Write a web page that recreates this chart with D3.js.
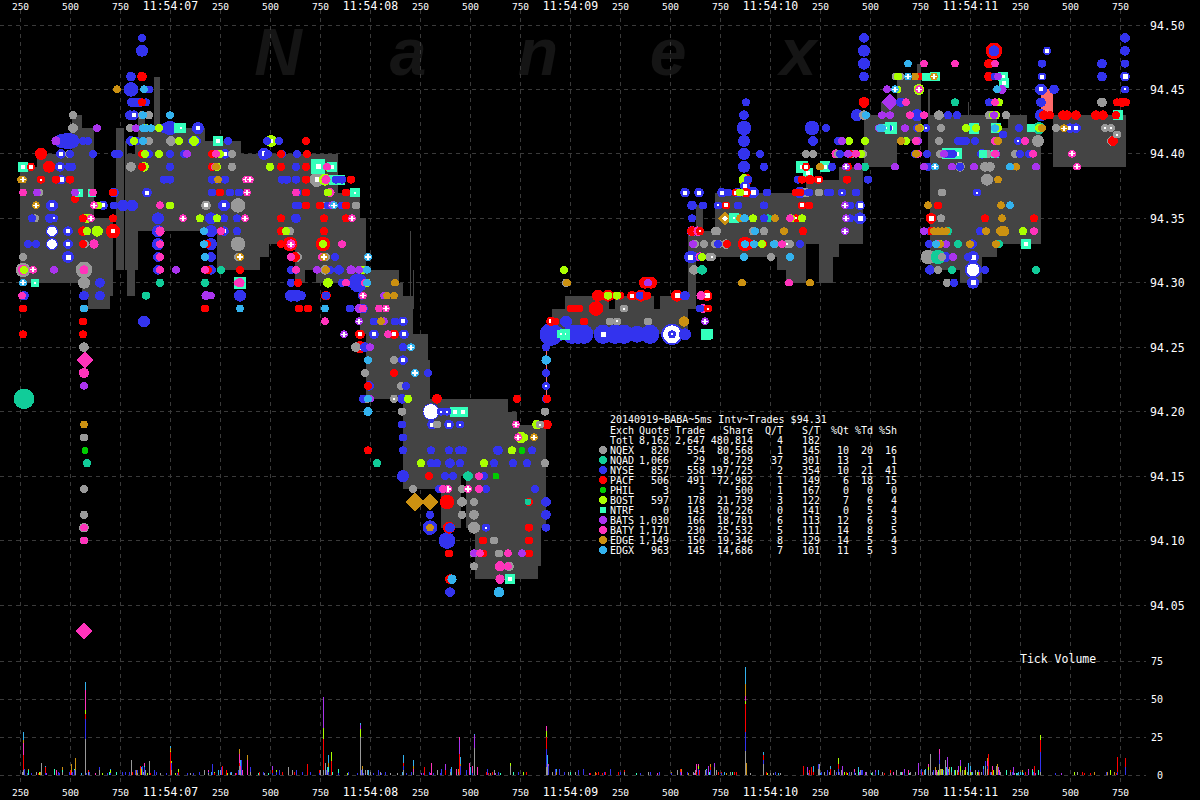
<!DOCTYPE html>
<html><head><meta charset="utf-8">
<script src="https://cdnjs.cloudflare.com/ajax/libs/d3/7.8.5/d3.min.js"></script>
<style>html,body{margin:0;padding:0;background:#000}svg{display:block}text{font-family:"DejaVu Sans Mono",monospace;fill:#fff}</style>
</head><body><svg id="c" width="1200" height="800"></svg>
<script>
// ---- labels ----
const timeTickLabels=["250","500","750","11:54:07","250","500","750","11:54:08","250","500","750","11:54:09","250","500","750","11:54:10","250","500","750","11:54:11","250","500","750"];
const timeTicks=[250,500,750,1000,1250,1500,1750,2000,2250,2500,2750,3000,3250,3500,3750,4000,4250,4500,4750,5000,5250,5500,5750];
const priceTicks=[94.05,94.10,94.15,94.20,94.25,94.30,94.35,94.40,94.45,94.50];
const volumeTicks=[0,25,50,75];
const watermark=["N","a","n","e","x"];
const tableTitle="20140919~BABA~5ms Intv~Trades $94.31";
const tableHeader=["Exch","Quote","Trade","Share","Q/T","S/T","%Qt","%Td","%Sh"];
const tableTotal=["Totl","8,162","2,647","480,814","4","182","","",""];
const exchNames=["NQEX","NQAD","NYSE","PACF","PHIL","BOST","NTRF","BATS","BATY","EDGE","EDGX"];
const exchQuote=["820","1,066","857","506","3","597","0","1,030","1,171","1,149","963"];
const exchTrade=["554","29","558","491","3","178","143","166","230","150","145"];
const exchShare=["80,568","8,729","197,725","72,982","500","21,739","20,226","18,781","25,532","19,346","14,686"];
const exchQT=["1","37","2","1","1","3","0","6","5","8","7"];
const exchST=["145","301","354","149","167","122","141","113","111","129","101"];
const exchPQ=["10","13","10","6","0","7","0","12","14","14","11"];
const exchPT=["20","1","21","18","0","6","5","6","8","5","5"];
const exchPS=["16","1","41","15","0","4","4","3","5","4","3"];
const exchColors=["#999999","#11cc99","#3333ee","#ff0000","#00cc00","#aaff00","#33ffbb","#aa33ee","#ff33bb","#cc9111","#33b2ee"];

// ---- quote band: [from ms, to ms, low, high] ----
const bandRows=[[250,335,94.30,94.39],[335,510,94.30,94.40],[510,560,94.30,94.43],[560,590,94.29,94.42],[590,620,94.28,94.42],[620,700,94.28,94.35],[700,715,94.29,94.35],[730,770,94.31,94.42],[775,785,94.31,94.41],[785,825,94.29,94.40],[825,840,94.31,94.41],[840,875,94.34,94.43],[875,920,94.34,94.42],[920,950,94.34,94.46],[950,1175,94.34,94.42],[1175,1235,94.34,94.41],[1235,1355,94.31,94.41],[1355,1450,94.31,94.40],[1450,1495,94.32,94.40],[1495,1625,94.33,94.40],[1625,1675,94.30,94.40],[1675,1730,94.31,94.40],[1730,1840,94.30,94.40],[1840,1950,94.30,94.37],[1950,1980,94.26,94.35],[1980,2145,94.21,94.31],[2145,2165,94.21,94.30],[2165,2215,94.14,94.29],[2215,2290,94.14,94.26],[2290,2300,94.14,94.24],[2300,2355,94.14,94.21],[2355,2455,94.11,94.21],[2455,2480,94.15,94.21],[2480,2525,94.11,94.21],[2525,2690,94.07,94.21],[2690,2735,94.07,94.20],[2735,2840,94.07,94.19],[2840,2855,94.08,94.19],[2855,2880,94.11,94.19],[2910,2975,94.26,94.28],[2975,3195,94.26,94.29],[3195,3225,94.26,94.28],[3225,3420,94.26,94.29],[3420,3450,94.26,94.28],[3450,3590,94.26,94.29],[3590,3630,94.28,94.34],[3630,3665,94.32,94.36],[3665,3725,94.32,94.34],[3725,3750,94.32,94.37],[3750,3960,94.32,94.37],[3960,4035,94.32,94.37],[4035,4080,94.31,94.37],[4080,4180,94.30,94.37],[4180,4245,94.33,94.38],[4245,4315,94.30,94.38],[4315,4345,94.32,94.38],[4345,4465,94.33,94.39],[4470,4555,94.39,94.43],[4555,4635,94.39,94.44],[4635,4740,94.41,94.46],[4735,4755,94.41,94.47],[4790,4800,94.40,94.45],[4800,4950,94.31,94.43],[4950,5060,94.30,94.43],[5060,5135,94.32,94.43],[5135,5190,94.33,94.42],[5190,5285,94.33,94.43],[5285,5355,94.33,94.42],[5415,5780,94.39,94.43],
 [2010,2012,94.31,94.33],[2130,2132,94.31,94.34],[2200,2203,94.29,94.34],[2215,2218,94.28,94.31],[2260,2262,94.26,94.28],[2285,2287,94.26,94.28],[4990,4995,94.42,94.44]];
const spreadRows=[[5355,5415,94.43,94.45],[2880,2885,94.21,94.26]];

// ---- marks: [ms, price, shares, trade shares] ----
const nqexPoints=[[325,94.35,100],[345,94.37,100],[265,94.32,100],[265,94.31,700],[570,94.31,1000],[570,94.30,400],[570,94.28,100],[570,94.25,200],[570,94.18,100],[570,94.14,100],[570,94.12,100],[570,94.11,200],[570,94.10,100],[515,94.43,100],[515,94.42,200],[495,94.40,100],[575,94.33,100],[800,94.42,100],[860,94.43,100],[895,94.43,100],[835,94.41,100],[895,94.41,100],[1005,94.41,200],[805,94.39,200],[1310,94.40,100],[1310,94.39,100],[1180,94.36,200,100],[1340,94.36,700],[1340,94.33,700],[1340,94.32,100],[1600,94.34,100],[1635,94.32,200],[1765,94.36,100],[1775,94.31,200],[1735,94.38,700,300],[1780,94.32,100],[1930,94.36,100],[1930,94.25,200],[2120,94.24,100],[1975,94.23,100],[2155,94.22,100],[1985,94.21,100],[2120,94.21,100,50],[2160,94.20,100],[2335,94.21,200],[2335,94.19,100],[2215,94.14,100],[2850,94.19,100,50],[2460,94.14,100],[2460,94.13,200],[2460,94.12,100],[2520,94.13,100],[2520,94.12,200],[2520,94.11,400],[2620,94.10,100],[2520,94.09,100],[2645,94.09,100],[2520,94.08,100],[2695,94.08,200],[2875,94.16,100],[2875,94.20,100],[2980,94.30,100],[3270,94.28,100,50],[3200,94.27,100],[3235,94.27,100,50],[3390,94.27,100],[3625,94.33,100,50],[3670,94.33,100],[3725,94.34,100],[3725,94.33,100],[3745,94.33,100],[3780,94.33,200],[3620,94.31,200],[3695,94.32,100],[3710,94.32,100,50],[3735,94.34,100],[3915,94.34,100],[3970,94.34,100],[4025,94.33,100],[4100,94.33,100],[4085,94.33,100,50],[4005,94.32,100],[4180,94.37,200],[4245,94.37,100],[4215,94.40,100],[4630,94.46,100],[4650,94.46,100],[4470,94.43,200],[4845,94.43,200],[4855,94.42,100],[4845,94.41,100],[4850,94.40,100],[5430,94.42,100],[5675,94.42,100,50],[5705,94.42,100,50],[5710,94.41,200],[5735,94.415,100,50],[5660,94.44,200],[4410,94.40,100],[4465,94.40,100],[4340,94.40,100],[4180,94.40,100],[5180,94.43,100],[5095,94.43,100],[4950,94.39,200],[5075,94.39,200],[5100,94.39,200],[5085,94.38,400],[4860,94.37,100],[4855,94.35,100],[4790,94.32,700],[4840,94.31,100],[4885,94.30,100],[4860,94.32,100],[5090,94.40,100],[5225,94.40,100],[5340,94.41,400]];
const nqadPoints=[[270,94.21,1700],[950,94.30,100],[880,94.29,100],[1255,94.31,100],[1175,94.30,100],[2035,94.16,100],[575,94.17,50],[585,94.16,100],[2490,94.15,200],[3660,94.31,200],[3990,94.35,100],[4925,94.44,100],[4730,94.41,100],[4475,94.39,100],[5330,94.31,100],[4890,94.34,100],[4940,94.33,100],[5145,94.33,100],[4840,94.32,700],[4910,94.31,100],[5345,94.42,400],[2790,94.13,50]];
const nysePoints=[[860,94.49,100],[860,94.48,400],[805,94.46,200],[805,94.45,700],[895,94.45,100],[810,94.44,200],[830,94.44,200],[850,94.44,200],[880,94.44,100],[800,94.43,200],[820,94.43,200,100],[1000,94.42,700],[970,94.42,200],[1140,94.42,400,100],[805,94.41,200],[835,94.41,100],[1115,94.41,200,200],[1130,94.41,200],[725,94.40,100],[745,94.40,100],[860,94.40,100],[895,94.40,100],[1000,94.40,100],[1070,94.40,100],[310,94.35,100],[330,94.33,100],[400,94.35,200],[410,94.35,100],[460,94.41,700],[490,94.41,1000,300],[510,94.41,700],[565,94.41,100],[590,94.41,100],[455,94.40,200,100],[500,94.40,100],[615,94.40,100],[510,94.39,100],[450,94.39,200,100],[495,94.39,100],[455,94.38,200,200],[720,94.37,200],[885,94.37,200,100],[970,94.38,100],[1000,94.38,100],[1000,94.39,100],[720,94.36,100],[810,94.36,400],[765,94.36,400],[665,94.36,200,100],[420,94.35,100,50],[410,94.36,400,100],[410,94.34,400,400],[490,94.34,200,100],[410,94.33,400,400],[490,94.33,200,100],[290,94.33,100],[490,94.32,400,300],[940,94.35,400],[940,94.34,400],[940,94.33,400],[940,94.32,200],[940,94.31,200],[1205,94.35,400],[1205,94.34,400],[1205,94.33,400],[1205,94.31,200],[1205,94.32,200],[1210,94.38,100],[1210,94.37,100],[870,94.27,400],[570,94.29,200],[650,94.29,200],[650,94.30,200],[270,94.29,200],[1300,94.37,100],[1345,94.37,100],[1335,94.35,100],[1335,94.34,100],[1350,94.29,400],[1235,94.38,100],[1275,94.38,100],[1270,94.36,400,100],[1270,94.34,200,100],[1270,94.35,100],[1275,94.40,200,100],[1290,94.41,100],[1470,94.40,400,300],[1490,94.40,100],[1485,94.41,100],[1545,94.41,100],[1560,94.40,100],[1555,94.39,100],[1560,94.38,100],[1580,94.38,100],[1635,94.40,100],[1630,94.39,100],[1630,94.38,100],[1585,94.38,100],[1635,94.37,100],[1630,94.36,100],[1630,94.35,200],[1630,94.31,100],[1605,94.31,100],[1605,94.30,100],[1605,94.29,400],[1635,94.29,400],[1655,94.29,200],[1640,94.36,100],[1790,94.36,100],[1830,94.38,100],[1860,94.38,100],[1825,94.32,100],[1845,94.31,200],[1800,94.31,100],[1780,94.29,100],[1860,94.36,100],[1880,94.36,100],[1860,94.30,100],[1900,94.30,100],[1940,94.30,1400],[1960,94.29,100],[1965,94.28,200],[1900,94.28,100],[2020,94.27,100],[2125,94.27,100],[2165,94.27,200,100],[2020,94.26,200,100],[2170,94.26,200,100],[2165,94.25,100],[1975,94.25,200],[2165,94.24,200,100],[2290,94.23,100],[1995,94.22,200,100],[2180,94.22,100],[2160,94.21,200],[1965,94.21,100],[2160,94.19,100],[2165,94.18,100],[2165,94.17,100],[2310,94.19,200,100],[2305,94.20,1000,1000],[2355,94.20,100,50],[2385,94.20,100,50],[2395,94.19,200,100],[2450,94.19,100],[2450,94.19,100,50],[2450,94.17,100],[2450,94.16,100],[2305,94.17,100],[2395,94.17,100],[2445,94.17,100],[2465,94.17,100],[2640,94.17,200],[2810,94.17,100],[2305,94.16,100],[2335,94.16,100],[2400,94.16,200],[2620,94.16,100],[2715,94.16,100],[2785,94.16,100],[2165,94.15,400],[2375,94.15,100],[2415,94.15,100],[2570,94.15,100],[2825,94.14,100],[2345,94.14,100],[2580,94.14,100],[2300,94.12,100],[2880,94.13,200],[2880,94.12,200],[2880,94.11,100],[2300,94.11,700],[2385,94.10,1000],[2400,94.11,200],[2400,94.06,200],[2580,94.11,100,50],[2905,94.26,2200],[2930,94.26,1000],[2980,94.27,400],[3010,94.26,1400],[3040,94.26,1400],[3070,94.26,1400],[3165,94.26,1400,200],[3225,94.26,1400],[3270,94.26,1400],[3335,94.26,1000],[3400,94.26,1400],[3510,94.26,1900,1400],[3575,94.26,400],[3510,94.26,100,50],[3575,94.29,200],[2880,94.25,100],[2880,94.23,100],[2880,94.22,100,50],[2880,94.21,100,50],[3240,94.29,100,100],[3350,94.29,100],[3575,94.37,200,100],[3645,94.37,200,100],[3760,94.37,200,100],[3840,94.37,200,100],[3790,94.37,100],[3915,94.37,400,300],[3985,94.37,100],[3610,94.36,200],[3665,94.36,100],[3740,94.36,100,50],[3840,94.36,100],[3970,94.36,100],[3610,94.35,100],[3970,94.35,100],[4150,94.37,400,200],[4140,94.38,100],[4155,94.37,100],[4195,94.37,100],[4150,94.33,100],[4210,94.42,700],[4215,94.41,200],[3880,94.44,100],[3870,94.43,200],[3870,94.42,700],[3870,94.41,400],[3870,94.40,400],[3870,94.39,400],[3875,94.37,200],[3875,94.375,200,100],[3610,94.32,400],[3600,94.32,400,300],[3655,94.32,100],[3740,94.33,100],[3890,94.38,100],[3950,94.40,100],[3970,94.39,100],[3650,94.28,100],[4470,94.49,200],[4470,94.48,400],[4470,94.47,400],[4470,94.46,200],[4435,94.43,400],[4340,94.41,100],[4350,94.40,100],[4280,94.42,100],[4310,94.39,100],[4300,94.37,100],[4430,94.37,100],[4490,94.38,100],[4360,94.37,100,50],[4290,94.37,100],[4400,94.36,100],[4400,94.35,100],[4450,94.36,200,200],[4450,94.35,400,300],[4655,94.44,200],[4665,94.44,100],[4590,94.42,100],[4780,94.42,100,50],[4735,94.43,100],[4735,94.43,400,300],[4735,94.42,100,50],[4890,94.43,100],[4935,94.43,100],[4940,94.41,100],[4960,94.41,100],[4980,94.41,100],[5025,94.41,100],[4735,94.40,100],[4725,94.40,100],[4785,94.40,100],[4885,94.40,100],[4900,94.40,100],[4950,94.39,100],[4790,94.39,100],[5060,94.40,200,100],[5035,94.37,100,50],[4915,94.40,100],[5245,94.42,100],[5165,94.415,100],[5240,94.41,100,50],[5250,94.40,100],[5295,94.40,100],[4800,94.34,100],[4795,94.33,100],[5050,94.34,100],[5010,94.33,200,100],[4990,94.32,100],[5015,94.32,400,300],[5015,94.31,1000,700],[5075,94.31,100],[5015,94.30,400,300],[4880,94.32,200],[4800,94.31,200],[4920,94.30,100],[5120,94.48,300],[5125,94.46,100],[5095,94.44,100],[5385,94.48,100,100],[5360,94.47,100],[5360,94.46,100,100],[5355,94.45,400,100],[5420,94.45,200],[5355,94.44,200],[5355,94.43,400],[5775,94.49,200],[5775,94.48,200],[5775,94.47,100],[5660,94.47,200],[5660,94.46,200],[5775,94.46,200,200],[5775,94.45,100,50],[5500,94.42,200,100],[5530,94.42,200,100]];
const pacfPoints=[[265,94.28,100],[265,94.26,100],[355,94.40,400],[305,94.39,100,100],[395,94.39,400],[355,94.38,100,50],[430,94.38,100],[500,94.38,100],[525,94.365,100],[715,94.37,100],[565,94.34,200],[715,94.34,700,100],[565,94.35,100],[715,94.35,100],[565,94.33,100],[565,94.27,100],[565,94.26,100],[860,94.46,200],[860,94.44,100],[860,94.40,100],[860,94.39,100],[1250,94.37,100],[1210,94.40,100],[1210,94.39,100],[1555,94.39,100],[1555,94.40,100],[1680,94.41,100],[1685,94.40,100],[1680,94.39,100],[1680,94.38,100],[1680,94.37,100],[1680,94.36,100],[1255,94.34,100],[1555,94.35,100],[1555,94.34,100],[1555,94.33,100],[1600,94.33,700],[1770,94.35,100],[1770,94.34,100],[1765,94.33,700,100],[1625,94.32,200],[1905,94.38,100],[1880,94.37,100],[1750,94.36,100],[1880,94.36,100],[1880,94.35,100],[1185,94.33,100],[1175,94.28,100],[1645,94.28,100],[1780,94.29,200],[1690,94.28,100],[1640,94.30,100],[1190,94.31,100],[1350,94.31,100],[1950,94.26,200,100],[1950,94.25,400,200],[2120,94.26,200,100],[2120,94.23,100],[1990,94.22,100],[2335,94.21,200],[1990,94.17,100],[2295,94.15,100],[2385,94.13,700],[2395,94.11,400],[2795,94.13,100],[2795,94.11,100],[2795,94.10,100],[2565,94.10,100],[2395,94.09,100],[2565,94.09,100],[2795,94.09,100],[2400,94.07,200],[2885,94.19,200,0],[2735,94.21,100],[2885,94.21,100],[2925,94.27,100],[2905,94.27,200,100],[3070,94.27,100],[3005,94.28,100],[3025,94.28,100],[3045,94.28,100],[3130,94.28,700],[3140,94.29,400],[3190,94.29,400,200],[3230,94.29,100],[3250,94.29,100],[3310,94.29,200,100],[3355,94.29,400],[3385,94.29,100],[3375,94.30,400],[3405,94.30,400],[3535,94.29,400,200],[3610,94.34,200],[3650,94.34,100,50],[3685,94.29,300,200],[3690,94.28,100,50],[3880,94.38,400],[3830,94.37,100,100],[3880,94.37,200,100],[3780,94.36,100,100],[3875,94.33,700,100],[3900,94.33,200],[3785,94.33,100],[3965,94.33,100],[4180,94.39,100,100],[4160,94.38,100],[4130,94.37,100],[4150,94.37,100],[4160,94.36,100,100],[4195,94.36,100],[4130,94.35,100,50],[4200,94.38,200],[4470,94.44,300],[4755,94.46,100],[4740,94.41,100],[4240,94.38,100],[4245,94.38,100,100],[4165,94.34,100],[4385,94.38,100],[4400,94.40,100],[4390,94.39,100],[4395,94.40,100],[4840,94.36,100],[4805,94.35,300,200],[5075,94.35,100],[4805,94.34,100],[5320,94.35,100],[5120,94.48,1000,0],[5095,94.47,200],[5095,94.46,200],[5125,94.43,100],[5370,94.43,200],[5400,94.43,100],[5465,94.43,200],[5485,94.43,200],[5530,94.43,200],[5630,94.43,200],[5665,94.43,200],[5715,94.41,200],[5730,94.43,100],[5735,94.44,100],[5760,94.44,200],[5780,94.44,100]];
const philPoints=[[2760,94.17,50],[2630,94.15,50],[575,94.17,50]];
const bostPoints=[[270,94.31,100],[640,94.36,100],[1000,94.36,100],[585,94.35,200],[585,94.34,100],[635,94.34,300],[645,94.34,100],[820,94.41,100],[870,94.39,200],[880,94.42,100],[945,94.42,100],[875,94.40,100],[945,94.40,100],[1045,94.41,100],[1120,94.41,200],[1150,94.35,100],[1235,94.39,100],[1235,94.35,100],[1250,94.40,100],[1505,94.41,400,100],[1500,94.39,100],[1580,94.34,100],[1765,94.33,100],[1790,94.30,200],[1795,94.39,200],[1775,94.38,400,100],[1795,94.38,200],[1840,94.38,200],[1790,94.37,100],[1985,94.30,100],[1965,94.31,100],[2190,94.21,100],[2710,94.17,100],[2755,94.18,400,0],[2835,94.19,200,0],[2770,94.18,100],[2255,94.16,100],[2570,94.16,100],[2970,94.31,100],[3190,94.29,100],[3235,94.29,100,0],[3660,94.32,100],[3870,94.38,300,0],[3850,94.37,100,0],[3915,94.35,100],[3960,94.33,100],[4105,94.35,100],[4160,94.35,100],[4455,94.40,100],[4475,94.41,100],[4395,94.41,100],[4640,94.46,100],[4635,94.45,100],[4680,94.41,100],[4745,94.45,300,100],[4750,94.42,100],[5145,94.44,100],[5130,94.43,100],[5115,94.43,100],[5265,94.34,100],[5140,94.42,100],[5345,94.42,100],[4850,94.33,100],[5030,94.42,100],[4980,94.42,100]];
const ntrfPoints=[[265,94.39,200,100],[325,94.30,100,50],[545,94.37,100,50],[610,94.37,100,50],[1045,94.42,200,100],[1055,94.42,200,50],[1240,94.41,300,100],[1350,94.30,400,100],[1740,94.39,700,200],[1810,94.39,200,100],[1820,94.38,200,100],[1850,94.38,200,50],[1925,94.37,200,50],[2425,94.20,200,100],[2465,94.20,200,100],[2700,94.07,200,100],[2955,94.26,100,50],[2975,94.26,300,50],[3680,94.26,300,200],[3690,94.26,200],[3820,94.35,200,50],[4825,94.46,200,100],[4780,94.46,100],[4275,94.39,300,100],[4160,94.39,400,100],[4190,94.385,300,100],[4580,94.42,100,50],[4605,94.42,400,100],[4885,94.40,300,100],[4905,94.40,300,100],[4935,94.40,300,100],[5020,94.42,300,150],[5130,94.42,200,100],[5165,94.46,200,100],[5170,94.455,200,100],[5280,94.33,200,100],[5065,94.40,100],[5125,94.40,100],[5305,94.42,100],[5740,94.43,200,100]];
const batsPoints=[[335,94.37,100],[525,94.37,100],[420,94.31,100],[430,94.41,200],[635,94.42,100],[830,94.42,100],[1085,94.40,100],[1180,94.29,200],[1030,94.31,100],[1205,94.29,100],[1735,94.31,100],[1810,94.36,100,50],[1905,94.31,200],[1945,94.31,100],[1945,94.28,200],[1945,94.27,100,50],[1870,94.26,100,100],[2070,94.29,100],[2000,94.25,100],[2000,94.21,100],[2070,94.27,100],[2520,94.09,100],[2760,94.09,100],[570,94.22,100],[3390,94.30,100],[3610,94.34,300],[3615,94.33,100],[3675,94.27,100,100],[4360,94.41,100],[4390,94.40,100],[4440,94.39,100],[4380,94.39,100,100],[4375,94.36,100,100],[4380,94.35,100,100],[4375,94.34,100,100],[4600,94.44,700],[4585,94.45,100],[4600,94.43,100],[4560,94.43,100],[4545,94.42,100],[4740,94.41,100],[4770,94.39,100],[4910,94.39,100],[4870,94.40,100],[5020,94.39,100],[5130,94.40,100],[4675,94.42,100],[4625,94.39,100],[5160,94.45,200],[4915,94.32,100],[4880,94.33,100],[5140,94.46,100],[5330,94.39,100],[5120,94.43,100],[4770,94.34,100]];
const batyPoints=[[265,94.37,100],[265,94.31,300],[315,94.31,100,100],[260,94.29,100],[620,94.36,100,100],[620,94.33,200],[605,94.35,100,100],[570,94.31,200],[575,94.24,700],[570,94.23,300],[570,94.11,100],[570,94.10,100],[570,94.03,700],[615,94.37,100],[1065,94.35,100,100],[950,94.36,100],[950,94.34,200],[950,94.33,100],[950,94.32,100],[950,94.31,100],[1375,94.35,100,100],[1385,94.37,100,100],[1380,94.38,100,100],[1225,94.39,100],[1230,94.40,100],[1255,94.34,100],[1175,94.31,100],[1340,94.30,100],[1350,94.30,200],[1400,94.38,100,100],[1605,94.33,200,100],[1605,94.32,100],[1630,94.31,100],[1760,94.32,100],[1630,94.37,100],[1785,94.39,100],[1780,94.38,200],[1800,94.37,200],[1775,94.27,100],[1860,94.33,100],[1910,94.35,100,100],[1975,94.30,100],[1880,94.30,100],[1965,94.29,100,100],[1965,94.28,100],[2045,94.28,100],[2080,94.28,100,100],[2090,94.26,100],[2730,94.19,100,100],[2740,94.18,100,100],[2545,94.15,100],[2390,94.14,100,100],[2365,94.14,100],[2545,94.14,100],[2490,94.14,100,100],[2550,94.09,100],[2690,94.09,100],[2650,94.08,300],[2650,94.07,200],[2690,94.08,100],[3655,94.29,200],[3665,94.28,200],[3640,94.34,200],[3650,94.32,200],[4100,94.35,100],[4060,94.33,100],[4095,94.30,100],[4330,94.40,200],[4430,94.40,100],[4770,94.47,100],[4745,94.45,100,100],[4770,94.43,100],[4730,94.41,100],[4740,94.40,100],[4925,94.47,100],[5125,94.47,100],[5125,94.44,100],[5125,94.41,100],[5125,94.40,100],[5275,94.41,100],[5315,94.40,100],[5320,94.34,100,0],[5510,94.40,100,100],[5535,94.39,100,100],[4680,94.44,100],[4700,94.43,100],[4840,94.33,100]];
const edgePoints=[[255,94.38,100],[265,94.38,100,100],[330,94.36,100,100],[1230,94.39,100],[1240,94.38,100],[1350,94.32,100,100],[1770,94.32,100,100],[1780,94.31,100],[2125,94.30,100],[2085,94.29,100],[2120,94.29,100],[2055,94.27,100],[2820,94.18,100,100],[570,94.19,100],[2225,94.13,1000],[2300,94.13,700],[2300,94.11,100],[2985,94.30,100],[3570,94.27,300],[3775,94.35,400,300],[3850,94.35,100],[3860,94.30,100],[4025,94.35,100],[4070,94.34,100],[4200,94.30,100],[4250,94.39,100],[4820,94.46,100,100],[4745,94.42,100],[4730,94.40,100],[4655,94.41,100],[5080,94.34,100],[5130,94.33,100],[5140,94.38,100],[5160,94.35,100],[5155,94.36,100],[5160,94.34,300],[5170,94.34,300],[5150,94.34,100],[4820,94.34,100],[4840,94.34,100],[4860,94.34,100],[4880,94.34,100],[4850,94.33,100],[4790,94.36,100],[5000,94.33,100],[5360,94.42,100],[5470,94.42,100,100],[5230,94.39,100],[5140,94.41,100],[735,94.45,100],[4725,94.46,100]];
const edgxPoints=[[265,94.30,100,100],[570,94.28,100],[870,94.45,100],[865,94.43,100],[865,94.42,100],[865,94.41,100],[905,94.42,100],[880,94.42,100],[1000,94.43,100],[1175,94.32,100],[1170,94.33,100],[1170,94.34,100],[1350,94.28,100],[1775,94.28,100],[1820,94.36,100,100],[1990,94.32,100,100],[1985,94.31,100],[1985,94.30,100],[2205,94.25,100,100],[2225,94.23,100,100],[1990,94.24,100],[1990,94.21,100],[1990,94.20,200],[2410,94.07,200],[2645,94.06,300],[2885,94.24,100],[2880,94.24,200],[3870,94.35,100],[3920,94.33,100],[3925,94.34,100],[3870,94.32,100],[3875,94.33,100],[4020,94.33,100],[3875,94.35,100],[4100,94.32,100],[4550,94.42,100],[4480,94.43,100],[4560,94.42,100],[4625,94.45,100,100],[4690,94.46,100,100],[4690,94.47,100],[5200,94.39,100],[5200,94.36,100],[4825,94.39,100,100],[4830,94.33,100],[5125,94.42,100],[5135,94.45,100]];

// ---- tick volume: [ms, count] ----
const volNQEX=[[260,2],[265,3],[330,2],[355,8],[460,2],[525,3],[575,24],[590,2],[645,3],[805,10],[835,1],[865,2],[875,3],[895,9],[950,1],[1005,3],[1170,3],[1190,1],[1250,3],[1345,6],[1350,3],[1470,1],[1590,5],[1610,3],[1750,3],[1765,3],[1775,8],[1785,3],[1950,25],[1960,4],[1975,3],[1985,3],[2135,1],[2165,3],[2215,2],[2335,3],[2400,2],[2520,18],[2620,3],[2700,6],[2880,5],[2885,7],[2910,2],[2990,2],[3025,2],[3270,2],[3390,2],[3535,3],[3615,2],[3625,3],[3675,3],[3720,5],[3875,16],[3965,7],[4015,1],[4050,1],[4245,7],[4185,2],[4340,2],[4800,14],[4845,7],[4875,10],[5075,6],[5130,6],[4950,2],[5200,2],[5535,2],[5350,2],[4240,4],[4320,3],[4450,3],[4560,2],[4630,3],[4770,3],[4790,3],[4810,2],[4855,4],[4960,3],[5025,3],[5055,2],[5085,4],[5105,2],[4270,2],[4295,2],[4355,3],[4405,2],[4425,1],[4480,2],[4510,2],[4600,1],[4650,2],[4700,2],[4725,2],[4825,3],[4835,2],[4905,2],[4935,3],[4985,2],[5005,2],[5040,2],[5150,2],[5220,1],[1100,1],[1300,1],[1400,2],[2000,2],[2050,2],[2100,1],[2440,2],[2600,1],[3730,3],[3800,2],[3900,1],[4000,1]];
const volNYSE=[[270,4],[285,1],[305,1],[375,1],[440,2],[445,1],[495,2],[510,2],[520,3],[580,1],[595,2],[575,13],[645,2],[685,1],[700,1],[795,2],[760,2],[775,2],[825,3],[835,2],[860,6],[870,5],[920,3],[930,2],[980,1],[1005,5],[1035,1],[1085,1],[1115,1],[1145,2],[1190,1],[1210,7],[1255,5],[1300,1],[1340,3],[1355,10],[1400,3],[1465,2],[1510,1],[1530,2],[1545,3],[1630,3],[1660,2],[1700,2],[1745,1],[1780,3],[1790,2],[1840,1],[1890,2],[1935,1],[1955,3],[1965,1],[2015,1],[2040,3],[2055,1],[2075,2],[2165,3],[2180,1],[2205,2],[2265,1],[2295,2],[2315,1],[2350,1],[2355,4],[2400,2],[2450,6],[2480,3],[2510,1],[2585,4],[2640,2],[2740,2],[2880,12],[2890,6],[2925,4],[2945,4],[2970,2],[3040,3],[3065,4],[3170,2],[3200,4],[3250,2],[3350,1],[3400,2],[3445,2],[3505,1],[3550,2],[3585,2],[3640,4],[3680,3],[3700,3],[3755,1],[3875,12],[3965,3],[4025,2],[4240,3],[4190,1],[4330,2],[4340,2],[4395,2],[4455,3],[4525,2],[4670,1],[4755,4],[4845,3],[5040,1],[5065,4],[5075,3],[5085,2],[5210,2],[5350,13],[5265,1],[5315,2],[5425,1],[5680,2],[5735,2],[5775,5],[4255,2],[4285,3],[4345,2],[4420,2],[4460,3],[4815,3],[4865,3],[4890,2],[5100,2],[5140,2]];
const volPACF=[[265,10],[340,1],[375,4],[500,3],[575,3],[590,1],[810,2],[850,6],[900,1],[1000,15],[1280,3],[1040,2],[1260,6],[1220,1],[1330,1],[1345,2],[1445,2],[1510,2],[1560,2],[1620,2],[1685,7],[1765,21],[1745,2],[1805,9],[2165,2],[2270,5],[2375,3],[2445,14],[2590,1],[2580,2],[2780,2],[2610,2],[2880,8],[3100,1],[3130,1],[3140,2],[3160,1],[3175,2],[3270,1],[3240,2],[3550,2],[3630,2],[3645,3],[3700,2],[3740,2],[3820,2],[3830,2],[3875,19],[3965,3],[3755,1],[3980,2],[4300,1],[4215,2],[4195,3],[4165,6],[4205,5],[4300,3],[4340,3],[4380,2],[4570,1],[4600,2],[5090,14],[4760,2],[4940,2],[5045,2],[5110,3],[5200,1],[5350,8],[5320,6],[5275,2],[5560,2],[5570,1],[5600,1],[5730,1],[5735,10],[5775,6]];
const volBOST=[[1805,6],[1530,1],[575,3],[660,1],[855,4],[1000,1],[1005,1],[1040,2],[1765,7],[1950,5],[1285,1],[345,2],[700,2],[885,1],[1025,1],[1220,1],[1885,1],[2880,4],[2765,2],[3875,2],[3985,1],[2700,2],[4340,4],[4370,2],[4860,4],[4925,3],[4950,4],[4975,3],[4840,3],[5000,2],[5035,2],[5115,3],[5350,3],[5520,2],[5700,3],[4790,2],[4385,1],[3640,2]];
const volNTRF=[[290,3],[730,2],[420,4],[460,1],[870,1],[520,1],[695,2],[1790,3],[1810,2],[1840,3],[2715,2],[2650,1],[3000,2],[1440,1],[1490,1],[3330,1],[3810,2],[3680,1],[3695,2],[4880,2],[4695,1],[4505,1],[5180,2],[5230,1],[5310,3],[5340,3],[4905,3],[5260,2],[4655,2],[4440,3],[5180,1]];
const volBATS=[[380,1],[505,1],[1510,3],[2255,1],[1765,20],[1950,3],[1325,1],[2445,9],[2520,8],[2625,1],[2375,4],[2890,1],[3095,1],[3620,1],[3690,6],[3720,3],[4185,3],[4360,6],[4445,2],[4525,1],[4670,3],[4740,8],[5140,3],[4885,12],[5000,1],[4940,4],[4950,4],[5215,5],[5325,1],[5290,3],[4475,2],[5455,1],[4845,4]];
const volBATY=[[265,8],[575,13],[1360,3],[430,3],[625,1],[1345,6],[870,2],[1350,3],[1385,10],[2305,8],[1190,1],[2430,4],[2495,8],[2510,5],[2535,5],[2880,3],[2300,1],[2445,2],[2215,2],[3630,5],[3640,1],[3555,2],[3435,1],[3875,3],[4845,3],[4615,2],[4420,2],[5085,3],[5145,3],[5110,3],[5310,1],[5290,1],[4660,2],[4690,3],[4790,2],[4830,3],[4975,2]];
const volEDGE=[[265,2],[350,2],[460,2],[525,8],[505,6],[1000,2],[1345,3],[1385,3],[830,3],[290,1],[1960,2],[1790,3],[2215,2],[2440,2],[2930,2],[3125,2],[2450,1],[3880,8],[3590,1],[3555,2],[3700,2],[3875,8],[3505,1],[3780,1],[4850,4],[4895,5],[4825,2],[4970,3],[5135,7],[5085,2],[5260,1],[5620,2],[5685,2],[5720,2]];
const volEDGX=[[265,5],[575,5],[555,1],[700,1],[375,1],[855,1],[1240,3],[1205,2],[1350,4],[1000,1],[1790,5],[1785,2],[1950,1],[1990,3],[1305,2],[2405,5],[2450,5],[2215,4],[2500,5],[2885,6],[2930,2],[2165,5],[2160,2],[2520,1],[3875,11],[3770,2],[3965,2],[4040,1],[4250,1],[4215,4],[4540,3],[5000,3],[4880,3],[4920,3],[4300,2],[4440,2],[5065,2],[4990,8],[5010,2],[5240,2],[4890,2],[4775,4],[5250,2],[5235,1]];

const vw=1200,vh=800;
const pointSets=[nqexPoints,nqadPoints,nysePoints,pacfPoints,philPoints,bostPoints,ntrfPoints,batsPoints,batyPoints,edgePoints,edgxPoints];
const volSets=[volNQEX,[],volNYSE,volPACF,[],volBOST,volNTRF,volBATS,volBATY,volEDGE,volEDGX];

const svg=d3.select("#c");
svg.append("rect").attr("width",vw).attr("height",vh).attr("fill","#000");
const x=d3.scaleLinear().domain([250,5750]).range([20,1120]);
const y=d3.scaleLinear().domain([94.50,94.05]).range([25,605]);
const yv=d3.scaleLinear().domain([0,75]).range([775,661]);
const r=d3.scaleSqrt().domain([100,2000]).range([4,11]);

// watermark
const wm=d3.scalePoint().domain(watermark).range([278,798]);
svg.append("g").selectAll("text").data(watermark).join("text")
  .attr("x",d=>wm(d)).attr("y",75).attr("text-anchor","middle")
  .style("font-family","'Liberation Sans'").style("font-style","italic").style("font-weight","bold").style("font-size","66px").style("fill","#151515").text(d=>d);

// grid
const gridCol="#3a3a3a";
const gv=svg.append("g").attr("shape-rendering","crispEdges");
gv.selectAll("line").data(timeTicks).join("line").attr("x1",d=>x(d)).attr("x2",d=>x(d)).attr("y1",10).attr("y2",782)
  .attr("stroke",gridCol).attr("stroke-dasharray","4 4");
const gh=svg.append("g").attr("shape-rendering","crispEdges");
gh.selectAll("line.p").data(priceTicks).join("line").attr("class","p").attr("x1",0).attr("x2",1146).attr("y1",d=>y(d)).attr("y2",d=>y(d))
  .attr("stroke",gridCol).attr("stroke-dasharray","4 4");
gh.selectAll("line.v").data(volumeTicks).join("line").attr("class","v").attr("x1",0).attr("x2",1146).attr("y1",d=>yv(d)).attr("y2",d=>yv(d))
  .attr("stroke",gridCol).attr("stroke-dasharray","4 4");

// band
const gb=svg.append("g").attr("shape-rendering","crispEdges");
gb.selectAll("rect").data(bandRows).join("rect").attr("x",d=>x(d[0])).attr("width",d=>x(d[1])-x(d[0])).attr("y",d=>y(d[3])).attr("height",d=>y(d[2])-y(d[3])).attr("fill","#444");
gb.append("g").selectAll("rect").data(spreadRows).join("rect").attr("x",d=>x(d[0])).attr("width",d=>x(d[1])-x(d[0])).attr("y",d=>y(d[3])).attr("height",d=>y(d[2])-y(d[3])).attr("fill","#ff6a6a");

// marker shapes
function shapePath(ex,rad){
  if(ex===6){const h=rad;return `M${-h},${-h}H${h}V${h}H${-h}Z`;}
  if(ex>=7){
    const R=rad*1.15;
    if(rad>=6) return `M0,${-R}L${R},0L0,${R}L${-R},0Z`;
    const c=d3.path();c.arc(0,0,rad*0.95,0,2*Math.PI);c.closePath();c.moveTo(0,-R-0.4);c.lineTo(2,-1);c.lineTo(-2,-1);c.closePath();return c.toString();
  }
  const c=d3.path();c.arc(0,0,rad,0,2*Math.PI);c.closePath();return c.toString();
}
function innerPath(ex,tr){
  const h=tr>=400?Math.sqrt(tr)*0.24:tr>=200?2.5:tr>=100?2:1;
  if(ex>=7 && tr<300){return `M-.6,-2.6H.6V-.6H2.6V.6H.6V2.6H-.6V.6H-2.6V-.6H-.6Z`;}
  if(ex>=7){const R=h*1.3;return `M0,${-R}L${R},0L0,${R}L${-R},0Z`;}
  if(tr>=400){const c=d3.path();c.arc(0,0,h,0,2*Math.PI);c.closePath();return c.toString();}
  return `M${-h},${-h}H${h}V${h}H${-h}Z`;
}
const allPts=[];
pointSets.forEach((s,ex)=>s.forEach(d=>allPts.push({ex,t:d[0],p:d[1],s:d[2],tr:d[3]||0})));
allPts.sort((a,b)=>d3.descending(a.s,b.s));
const gp=svg.append("g").attr("shape-rendering","crispEdges");
const mk=gp.selectAll("g").data(allPts).join("g").attr("transform",d=>`translate(${x(d.t)},${y(d.p)})`);
mk.append("path").attr("d",d=>shapePath(d.ex,r(d.s))).attr("fill",d=>exchColors[d.ex]);
mk.filter(d=>d.tr>0).append("path").attr("d",d=>innerPath(d.ex,d.tr)).attr("fill","#fff");

// tick volume stacks
const volMap=new Map();
volSets.forEach((s,ex)=>s.forEach(([t,n])=>{if(!volMap.has(t))volMap.set(t,{t});const o=volMap.get(t);o[exchNames[ex]]=(o[exchNames[ex]]||0)+n;}));
const volRows=Array.from(volMap.values());
const stacked=d3.stack().keys(exchNames).value((d,k)=>d[k]||0)(volRows);
const gvol=svg.append("g").attr("shape-rendering","crispEdges");
gvol.selectAll("g").data(stacked).join("g").attr("fill",(d,i)=>exchColors[i])
  .selectAll("rect").data(d=>d.filter(e=>e[1]>e[0])).join("rect")
  .attr("x",d=>x(d.data.t)).attr("width",1.2).attr("y",d=>yv(d[1])).attr("height",d=>yv(d[0])-yv(d[1]));

// axes
function timeAxis(gen,yPos){
  const g=svg.append("g").attr("transform",`translate(0,${yPos})`).call(gen.tickValues(timeTicks).tickSize(0).tickPadding(0).tickFormat((d,i)=>timeTickLabels[i]));
  g.select(".domain").remove();
  g.selectAll("text").style("font-family","'DejaVu Sans Mono'").style("font-size",(d,i)=>timeTickLabels[i].length>3?"11.5px":"9.5px").attr("dy",null).attr("y",0).attr("dominant-baseline","central");
}
timeAxis(d3.axisBottom(x),6);
timeAxis(d3.axisBottom(x),792);
const ax=svg.append("g").attr("transform","translate(1150,0)").call(d3.axisRight(y).tickValues(priceTicks).tickSize(0).tickPadding(0).tickFormat(d3.format(".2f")));
ax.select(".domain").remove();
ax.selectAll("text").style("font-family","'DejaVu Sans Mono'").style("font-size","11.5px").attr("dy",null).attr("dominant-baseline","central");
const av=svg.append("g").attr("transform","translate(1163,0)").call(d3.axisLeft(yv).tickValues(volumeTicks).tickSize(0).tickPadding(0));
av.select(".domain").remove();
av.selectAll("text").style("font-family","'DejaVu Sans Mono'").style("font-size","10px").attr("dy",null).attr("dominant-baseline","central");
svg.append("text").attr("x",1020).attr("y",663).style("font-size","11.5px").text("Tick Volume");

// table
const colEnd=[null,669,705,753,783,820,849,873,897];
const rowY=i=>419+i*10+(i>0?1:0);
const tb=svg.append("g").style("font-size","10px");
tb.append("text").attr("x",610).attr("y",rowY(0)+3.5).text(tableTitle);
const tblRows=[tableHeader,tableTotal].concat(exchNames.map((n,i)=>[n,exchQuote[i],exchTrade[i],exchShare[i],exchQT[i],exchST[i],exchPQ[i],exchPT[i],exchPS[i]]));
tblRows.forEach((row,ri)=>row.forEach((c,ci)=>{
  const t=tb.append("text").attr("y",rowY(ri+1)+3.5).text(c);
  if(ci===0)t.attr("x",610);else t.attr("x",colEnd[ci]).attr("text-anchor","end");
}));
const lg=svg.append("g").attr("shape-rendering","crispEdges");
exchNames.forEach((n,i)=>{
  lg.append("path").attr("transform",`translate(603,${rowY(i+3)})`).attr("d",shapePath(i,i===4||i===6?3:4.2)).attr("fill",exchColors[i]);
});
</script></body></html>
